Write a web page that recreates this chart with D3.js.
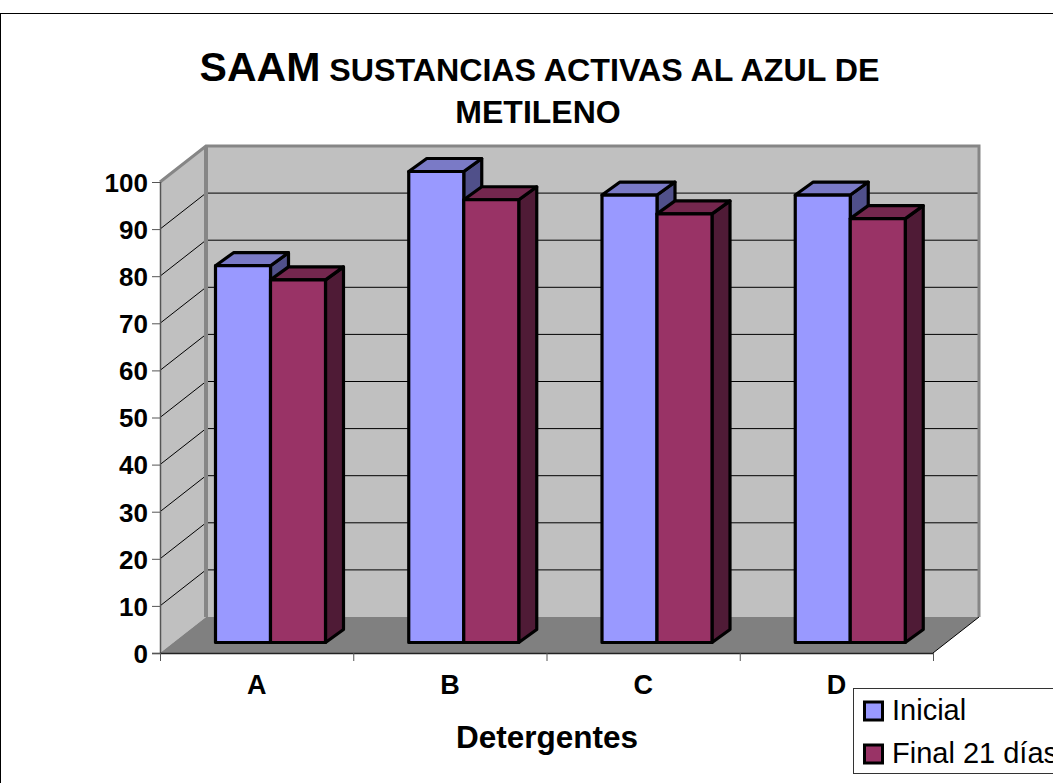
<!DOCTYPE html>
<html><head><meta charset="utf-8">
<script src="https://cdn.jsdelivr.net/npm/d3@7/dist/d3.min.js"></script>
<style>html,body{margin:0;padding:0;background:#fff;overflow:hidden}svg{display:block;font-family:"Liberation Sans",Arial,sans-serif}</style>
</head><body><svg id="c" width="1053" height="783"></svg>
<script>
const categories = ["A","B","C","D"];
const seriesNames = ["Inicial","Final 21 días"];
const inicial = [80,100,95,95];
const final21 = [77,94,91,90];
const yTicks = [0,10,20,30,40,50,60,70,80,90,100];
const colors = {front:["#9999ff","#993366"],top:["#7a7ac6","#74274e"],side:["#50508a","#4f1b36"]};

const svg = d3.select("#c");
const x = d3.scaleBand().domain(categories).range([160,933]);
const y = d3.scaleLinear().domain([0,100]).range([653,182]);
const dx=46, dy=-36;          // wall depth
const bx=13, by=-10.5;        // front plane of bars
const sx=18, sy=-13;          // bar depth
const line = d3.line();

// frame
svg.append("rect").attr("x",0.5).attr("y",13.5).attr("width",1060).attr("height",800).attr("fill","#fff").attr("stroke","#000");

// walls and floor
const x0=x.range()[0], x1=x.range()[1];
svg.append("path").attr("d",line([[x0,y(0)],[x0+dx,y(0)+dy],[x0+dx,y(100)+dy],[x0,y(100)]])+"Z").attr("fill","#c0c0c0");
svg.append("path").attr("d",line([[x0+dx,y(0)+dy],[x1+dx,y(0)+dy],[x1+dx,y(100)+dy],[x0+dx,y(100)+dy]])+"Z").attr("fill","#c0c0c0");
svg.append("path").attr("d",line([[x0,y(0)],[x1,y(0)],[x1+dx,y(0)+dy],[x0+dx,y(0)+dy]])+"Z").attr("fill","#808080");

// gridlines
yTicks.filter(d=>d>0&&d<100).forEach(t=>{
  svg.append("path").attr("d",line([[x0,y(t)],[x0+dx,y(t)+dy],[x1+dx,y(t)+dy]])).attr("fill","none").attr("stroke","#000").attr("stroke-width",1);
});
// wall edges
svg.append("path").attr("d",line([[x0,y(100)],[x0+dx,y(100)+dy],[x1+dx,y(100)+dy],[x1+dx,y(0)+dy]])).attr("fill","none").attr("stroke","#868686").attr("stroke-width",3);
svg.append("path").attr("d",line([[x0+dx,y(100)+dy],[x0+dx,y(0)+dy]])).attr("fill","none").attr("stroke","#868686").attr("stroke-width",4);
svg.append("path").attr("d",line([[x1,y(0)],[x1+dx,y(0)+dy]])).attr("fill","none").attr("stroke","#000").attr("stroke-width",1);

// axes lines
svg.append("path").attr("d",line([[x0+.5,y(100)],[x0+.5,y(0)]])).attr("stroke","#555").attr("stroke-width",1.5).attr("fill","none");
svg.append("path").attr("d",line([[x0-8,y(0)+.5],[x1,y(0)+.5]])).attr("stroke","#222").attr("stroke-width",1.5).attr("fill","none");

const yAxis = svg.append("g").attr("transform",`translate(${x0},0)`)
  .call(d3.axisLeft(y).tickValues(yTicks).tickSize(8).tickPadding(4).tickFormat(d3.format("d")));
yAxis.select(".domain").remove();
yAxis.selectAll("line").attr("stroke","#555");
yAxis.selectAll("text").attr("font-family","Liberation Sans").attr("font-size",26).attr("font-weight","bold").attr("fill","#000").attr("dy","0.36em");

const xAxis = svg.append("g").attr("transform",`translate(0,${y(0)})`)
  .call(d3.axisBottom(x).tickSize(0).tickPadding(22));
xAxis.select(".domain").remove();
xAxis.selectAll("text").attr("font-family","Liberation Sans").attr("font-size",27).attr("font-weight","bold").attr("fill","#000");
[...x.domain().map(d=>x(d)),x1].forEach(v=>{
  svg.append("line").attr("x1",v+.5).attr("x2",v+.5).attr("y1",y(0)).attr("y2",y(0)+8).attr("stroke","#555");
});

// bars
const sub = d3.scaleBand().domain([0,1]).range([0,110]);
const groupOffset = 43;
const series=[inicial,final21];
const barStroke={stroke:"#000","stroke-width":3.2,"stroke-linejoin":"round"};
function bar(cat,si,v){
  const L=x(cat)+groupOffset+bx+sub(si)-0.5, R=L+sub.bandwidth();
  const B=y(0)+by, T=y(v)+by;
  const g=svg.append("g");
  const add=(pts,fill)=>{const p=g.append("path").attr("d",line(pts)+"Z").attr("fill",fill);
    Object.entries(barStroke).forEach(([k,val])=>p.attr(k,val));};
  add([[R,B],[R+sx,B+sy],[R+sx,T+sy],[R,T]],colors.side[si]);
  add([[L,T],[L+sx,T+sy],[R+sx,T+sy],[R,T]],colors.top[si]);
  add([[L,B],[R,B],[R,T],[L,T]],colors.front[si]);
}
categories.forEach((c,i)=>{ series.forEach((s,si)=>bar(c,si,s[i])); });

// title
const t=svg.append("text").attr("x",539.5).attr("y",81).attr("text-anchor","middle").attr("font-weight","bold").attr("fill","#000");
t.append("tspan").attr("font-size",41).text("SAAM");
t.append("tspan").attr("font-size",32.2).text(" SUSTANCIAS ACTIVAS AL AZUL DE");
svg.append("text").attr("x",538).attr("y",123).attr("text-anchor","middle").attr("font-weight","bold").attr("font-size",32).text("METILENO");
svg.append("text").attr("x",547).attr("y",748).attr("text-anchor","middle").attr("font-weight","bold").attr("font-size",31.5).text("Detergentes");

// legend
svg.append("rect").attr("x",853.5).attr("y",688.5).attr("width",240).attr("height",85).attr("fill","#fff").attr("stroke","#333");
seriesNames.forEach((n,i)=>{
  const yy=702+i*43;
  svg.append("rect").attr("x",864.5).attr("y",yy).attr("width",18).attr("height",18).attr("fill",colors.front[i]).attr("stroke","#000").attr("stroke-width",3);
  svg.append("text").attr("x",892).attr("y",720+i*43).attr("font-size",29).attr("fill","#000").text(n);
});
</script></body></html>
